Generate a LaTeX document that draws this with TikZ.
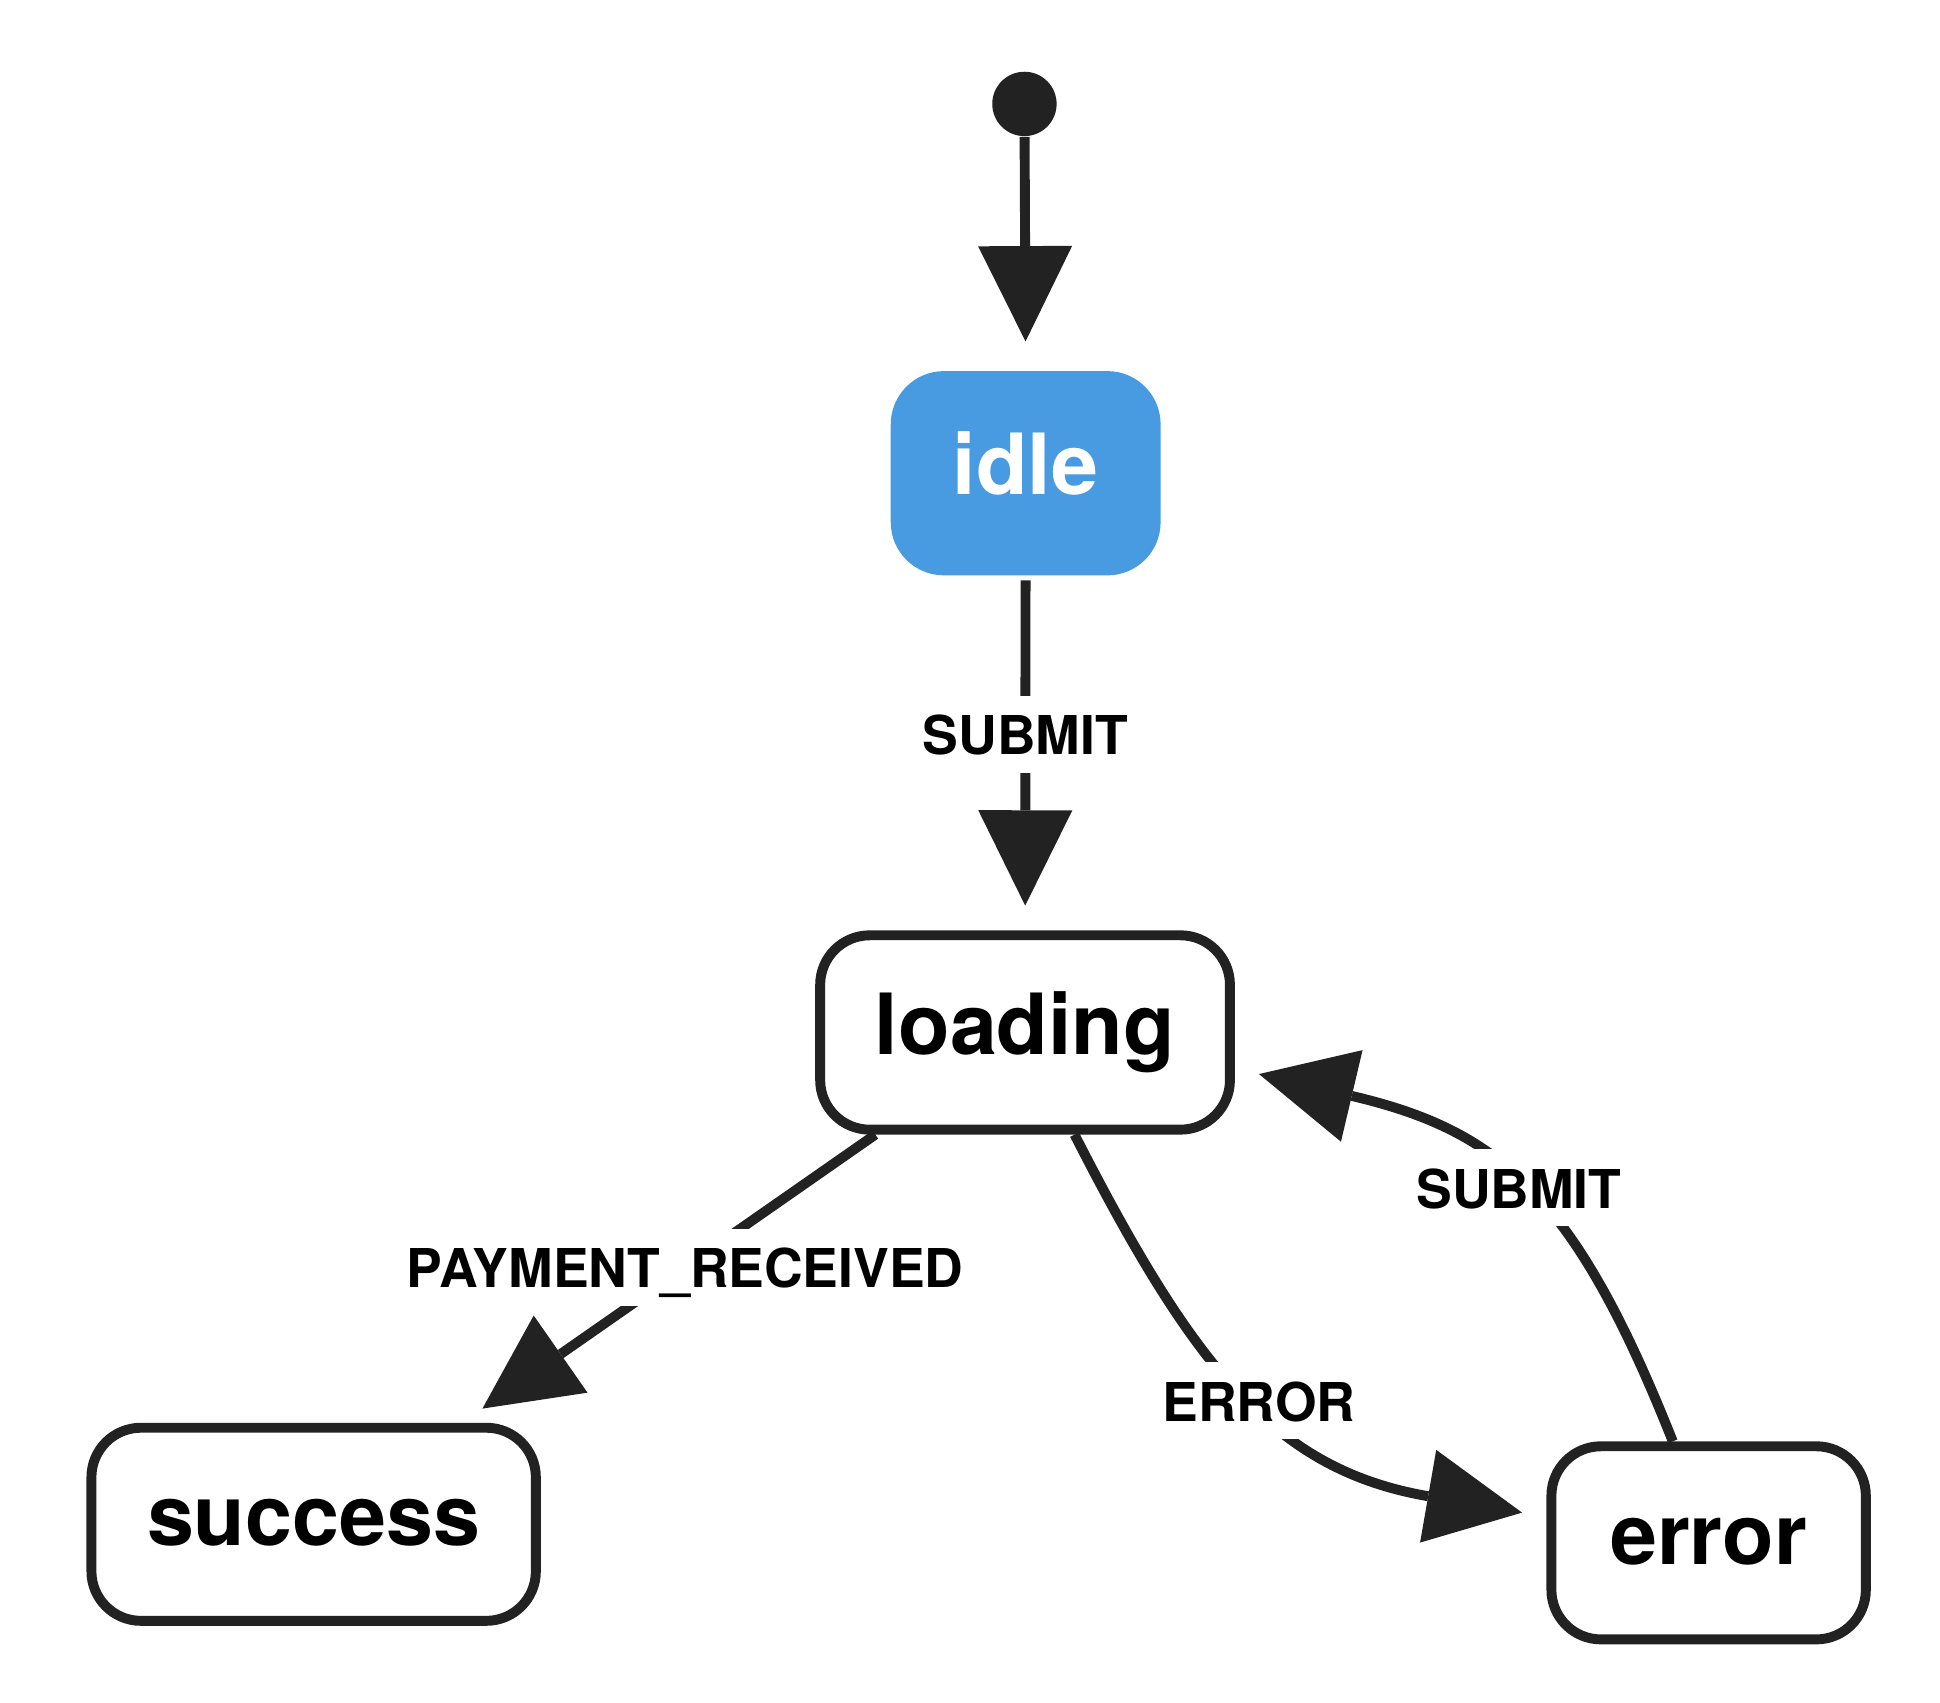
\documentclass[tikz,border=0pt]{standalone}
\usepackage{fontspec}
\setmainfont{TeX Gyre Heros}
\usetikzlibrary{arrows.meta,calc}
\definecolor{ink}{HTML}{222222}
\definecolor{idleblue}{HTML}{489BE0}
\begin{document}
\begin{tikzpicture}[x=0.01cm,y=-0.01cm,
  state/.style={rectangle, rounded corners=0.4cm, draw=ink, line width=0.08cm, fill=white,
    font=\fontsize{19.4}{23}\selectfont\bfseries, text height=0.49cm, text depth=0.14cm, inner sep=0pt},
  trans/.style={draw=ink, line width=0.08cm,
    -{Triangle[length=0.77cm,width=0.76cm,line width=0pt]}, shorten >=0.2cm},
  lbl/.style={fill=white, font=\fontsize{12.3}{14}\selectfont\bfseries, text height=0.33cm,
    text depth=0pt, inner xsep=0.1cm, inner ysep=0.145cm, text=black}]
\useasboundingbox (0,0) rectangle (1568,1376);
\node[circle, fill=ink, minimum size=0.52cm, inner sep=0pt] (start) at (828,84) {};
\node[state, draw=none, fill=idleblue, text=white, rounded corners=0.43cm,
  minimum width=2.18cm, minimum height=1.65cm] (idle) at (829,382.5) {idle};
\node[state, minimum width=3.31cm, minimum height=1.57cm] (loading) at (828.5,834.5) {loading};
\node[state, minimum width=3.59cm, minimum height=1.56cm] (success) at (253.5,1232) {success};
\node[state, minimum width=2.54cm, minimum height=1.56cm] (error) at (1381,1247) {error};
\draw[trans] (start) -- (idle.north);
\draw[trans] (idle) -- node[lbl,pos=0.44]{SUBMIT} (loading);
\draw[trans] ($(loading.south)+(-121,0)$) -- node[lbl,pos=0.46]{PAYMENT\_RECEIVED} ($(success.north)+(120,0)$);
\draw[trans] ($(loading.south)+(40,0)$) .. controls +(98,192) and +(-218,-38) .. node[lbl,pos=0.51]{ERROR} ($(error.west)+(0,-21)$);
\draw[trans] ($(error.north)+(-29,0)$) .. controls +(-80,-202) and +(212,50) .. node[lbl,pos=0.49]{SUBMIT} ($(loading.east)+(0,29)$);
\end{tikzpicture}
\end{document}
